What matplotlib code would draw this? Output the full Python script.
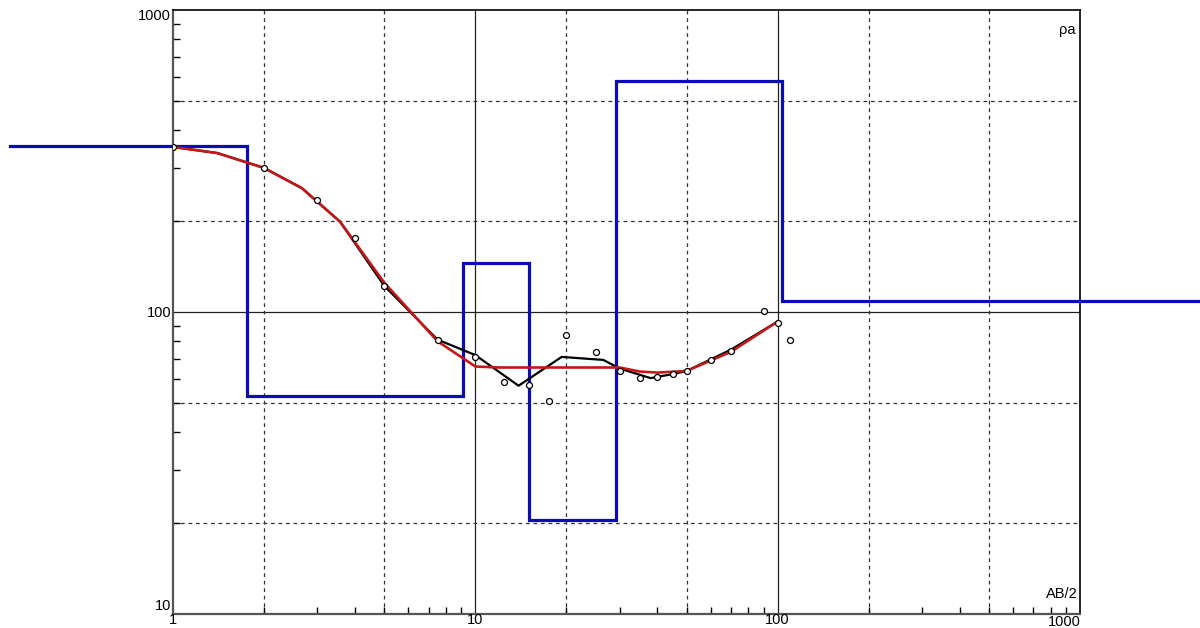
import numpy as np
import matplotlib
matplotlib.use("Agg")
import matplotlib.pyplot as plt
from matplotlib.ticker import FixedLocator, NullFormatter
from matplotlib.transforms import offset_copy

plt.rcParams['font.family'] = ['Liberation Sans', 'DejaVu Sans']

# Field measurements: apparent resistivity vs AB/2
ab2_obs = [1, 2, 3, 4, 5, 7.5, 10, 12.4, 15, 17.5, 20, 25, 30, 35, 40, 45, 50, 60, 70, 90, 100, 110]
rho_obs = [352, 300, 235, 176, 122, 81, 71, 58.7, 57.3, 50.8, 84, 73.7, 63.8, 60.4, 61, 62.3, 63.8, 69.4, 74.3, 100.8, 92, 80.8]

# Smoothed field curve
ab2_smooth = [1, 1.4, 2, 2.67, 3.57, 5, 7.5, 10, 13.9, 19.3, 26.5, 30, 38, 45, 50, 70, 100]
rho_smooth = [352, 336, 300, 257, 199, 122, 81, 72, 57, 71, 69.4, 65, 60.4, 62.3, 63.8, 75, 93]

# Computed response of the layered model
ab2_calc = [1, 1.4, 2, 2.67, 3.57, 5, 7.5, 10, 12, 20, 30, 35, 40, 50, 70, 100]
rho_calc = [352, 336, 300, 257, 199, 125, 80, 66, 65.5, 65.5, 65.5, 63.5, 63, 63.8, 73.8, 93]

# Layered earth model: resistivity of each layer and the depths of its boundaries
layer_rho = [355, 52.7, 145, 20.5, 580, 109]
layer_bounds = [1.76, 9.12, 15.0, 29.3, 103]
model_start, model_end = 0.29, 2500

fig = plt.figure(figsize=(12, 6.28), dpi=100)
ax = fig.add_axes([173 / 1200, 14 / 628, 907 / 1200, 604 / 628])
ax.set_xscale('log')
ax.set_yscale('log')
ax.set_xlim(1, 1000)
ax.set_ylim(10, 1000)

# Grid: solid at decades, dashed at 2 and 5
for v in [10, 100]:
    ax.axvline(v, color='#222222', lw=0.9, zorder=1)
    ax.axhline(v, color='#222222', lw=0.9, zorder=1)
for dec in [1, 10, 100]:
    for m in [2, 5]:
        ax.axvline(dec * m, color='#333333', lw=0.9, ls=(0, (3, 3)), zorder=1)
for dec in [10, 100]:
    for m in [2, 5]:
        ax.axhline(dec * m, color='#333333', lw=0.9, ls=(0, (3, 3)), zorder=1)

# Layered model as a step curve
xs = [model_start]
ys = [layer_rho[0]]
for i, b in enumerate(layer_bounds):
    xs += [b, b]
    ys += [layer_rho[i], layer_rho[i + 1]]
xs.append(model_end)
ys.append(layer_rho[-1])
ax.plot(xs, ys, color='#0c0cb4', lw=2.3, clip_on=False, zorder=3,
        solid_joinstyle='miter')

ax.plot(ab2_smooth, rho_smooth, color='black', lw=1.6, zorder=4)
ax.plot(ab2_calc, rho_calc, color='#c41818', lw=1.9, zorder=5)
ax.plot(ab2_obs, rho_obs, ls='none', marker='o', ms=4.3, mfc='white',
        mec='black', mew=0.9, zorder=6)

# Ticks: inward minor ticks only, labels drawn as text
minor = [m * d for d in [1, 10, 100] for m in range(2, 10)]
ax.xaxis.set_major_locator(FixedLocator([]))
ax.yaxis.set_major_locator(FixedLocator([]))
ax.xaxis.set_minor_locator(FixedLocator(minor))
ax.yaxis.set_minor_locator(FixedLocator([m * d for d in [10, 100] for m in range(2, 10)]))
ax.xaxis.set_minor_formatter(NullFormatter())
ax.yaxis.set_minor_formatter(NullFormatter())
ax.tick_params(which='minor', direction='in', length=5, width=1, color='black',
               top=False, right=False)

for side in ['left', 'bottom']:
    ax.spines[side].set_color('#555555')
    ax.spines[side].set_linewidth(1.6)
for side in ['top', 'right']:
    ax.spines[side].set_color('black')
    ax.spines[side].set_linewidth(1.2)

fs = 10.5
xt = ax.get_xaxis_transform()
yt = ax.get_yaxis_transform()
ax.text(1, 0, '1', transform=offset_copy(xt, fig=fig, x=0, y=-6, units='dots'),
        ha='center', va='center', fontsize=fs)
ax.text(10, 0, '10', transform=offset_copy(xt, fig=fig, x=0, y=-6, units='dots'),
        ha='center', va='center', fontsize=fs)
ax.text(100, 0, '100', transform=offset_copy(xt, fig=fig, x=0, y=-6, units='dots'),
        ha='center', va='center', fontsize=fs)
ax.text(1000, 0, '1000', transform=offset_copy(xt, fig=fig, x=1, y=-8, units='dots'),
        ha='right', va='center', fontsize=fs)

ax.text(0, 10, '10', transform=offset_copy(yt, fig=fig, x=-2, y=8, units='dots'),
        ha='right', va='center', fontsize=fs)
ax.text(0, 100, '100', transform=offset_copy(yt, fig=fig, x=-2, y=-1, units='dots'),
        ha='right', va='center', fontsize=fs)
ax.text(0, 1000, '1000', transform=offset_copy(yt, fig=fig, x=-2, y=-6, units='dots'),
        ha='right', va='center', fontsize=fs)

ax.text(0.9945, 0.978, 'ρa', transform=ax.transAxes, ha='right', va='top', fontsize=fs)
ax.text(0.9975, 0.022, 'AB/2', transform=ax.transAxes, ha='right', va='bottom', fontsize=fs)

fig.savefig('out.png', dpi=100)
